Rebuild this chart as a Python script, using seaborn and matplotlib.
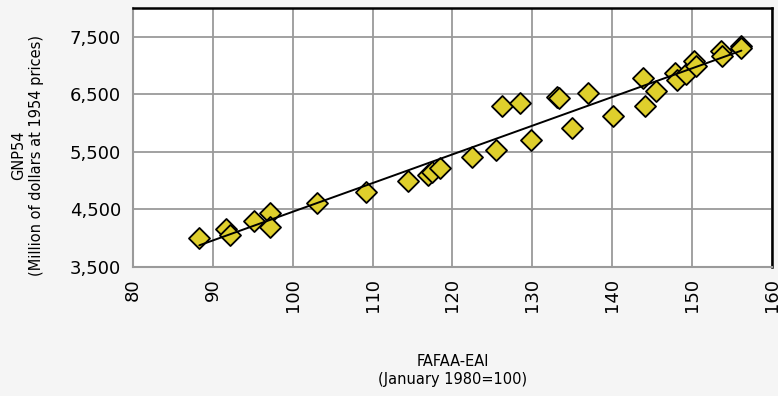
import matplotlib
matplotlib.use("Agg")
import matplotlib.pyplot as plt
import pandas as pd
import seaborn as sns
from matplotlib.ticker import FuncFormatter

# colors
MARKER = "#DFCF2C"
GRID = "#9a9a9a"
BG = "#f5f5f5"

# data
fafaa_eai = [88.3, 91.7, 92.1, 95.2, 97.2, 97.2, 103.1, 109.2, 114.4, 116.9,
             117.5, 118.4, 122.4, 125.5, 126.2, 128.5, 129.9, 133.1, 133.3, 135.0,
             137.0, 140.1, 143.9, 144.1, 145.5, 147.9, 148.1, 149.2, 150.2, 150.5,
             153.6, 153.8, 156.2, 156.1]
gnp54 = [4000, 4155, 4060, 4290, 4435, 4185, 4610, 4800, 5000, 5100,
         5155, 5215, 5410, 5535, 6300, 6345, 5710, 6460, 6430, 5910,
         6530, 6115, 6780, 6300, 6565, 6870, 6750, 6855, 7070, 6985,
         7245, 7160, 7345, 7300]

x_ticks = list(range(80, 161, 10))
y_ticks = [3500, 4500, 5500, 6500, 7500]

df = pd.DataFrame({"FAFAA_EAI": fafaa_eai, "GNP54": gnp54})

sns.set_style("white")
plt.rcParams["font.family"] = ["DejaVu Sans"]
plt.rcParams["text.color"] = "black"
plt.rcParams["axes.labelcolor"] = "black"

fig = plt.figure(figsize=(7.78, 3.96), dpi=100, facecolor=BG)
ax = fig.add_axes([0.171, 0.326, 0.821, 0.654])
ax.set_facecolor("white")

sns.regplot(data=df, x="FAFAA_EAI", y="GNP54", ax=ax, ci=None, marker="D",
            scatter_kws=dict(s=115, color=MARKER, edgecolor="black", linewidths=1.3, alpha=1, zorder=3),
            line_kws=dict(color="black", lw=1.4, zorder=4))

ax.set_xlim(80, 160)
ax.set_ylim(3500, 8000)
ax.set_xticks(x_ticks)
ax.set_yticks(y_ticks)
ax.yaxis.set_major_formatter(FuncFormatter(lambda v, p: f"{int(v):,}"))
ax.grid(True, color=GRID, lw=1.3, zorder=0)
ax.set_axisbelow(True)

for side in ["left", "bottom"]:
    ax.spines[side].set_color(GRID)
    ax.spines[side].set_linewidth(1.5)
for side in ["top", "right"]:
    ax.spines[side].set_color("black")
    ax.spines[side].set_linewidth(1.8)

ax.tick_params(axis="both", direction="out", length=5, width=1.2, color=GRID,
               labelsize=13, labelcolor="black")
ax.tick_params(axis="x", labelrotation=90, pad=3)

ax.set_xlabel("FAFAA-EAI\n(January 1980=100)", fontsize=10.5, linespacing=1.3)
ax.xaxis.set_label_coords(0.5, -0.335)
ax.set_ylabel("GNP54\n(Million of dollars at 1954 prices)", fontsize=10.5, linespacing=1.2)
ax.yaxis.set_label_coords(-0.14, 0.43)

fig.savefig("out.png", dpi=100, facecolor=BG)
